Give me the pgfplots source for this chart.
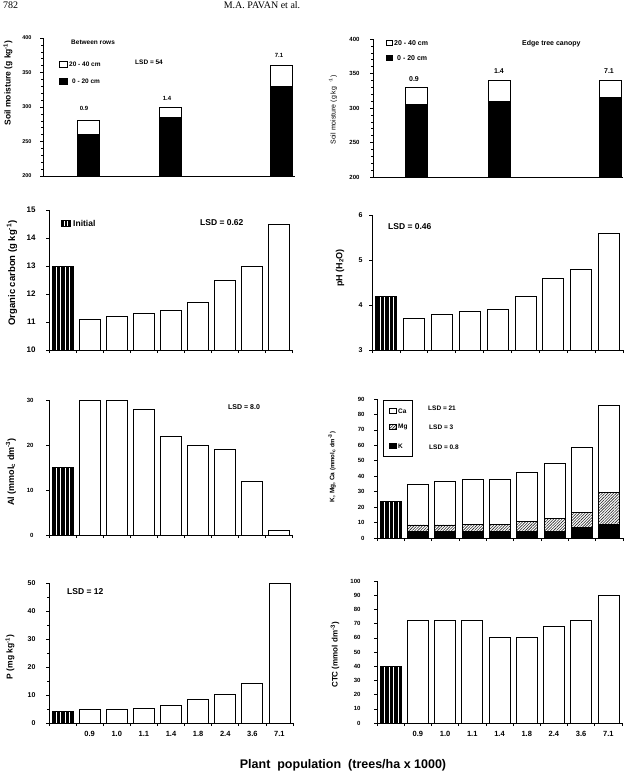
\documentclass[border=0pt]{standalone}
\usepackage{fontspec}
\setmainfont{Liberation Sans}
\newfontfamily\serifhead{Liberation Serif}
\usepackage{pgfplots}
\pgfplotsset{compat=1.18}
\usetikzlibrary{patterns.meta}

\newcommand\fs[1]{\fontsize{#1}{#1}\selectfont}

\pgfplotsset{
  panel/.style={
    scale only axis, anchor=south west,
    axis x line*=bottom, axis y line*=left,
    axis line style={-, line width=0.7pt},
    every outer x axis line/.append style={-},
    every outer y axis line/.append style={-},
    tick align=outside, major tick length=3pt, minor tick length=1.8pt,
    tick style={black, line width=0.6pt},
    /pgf/number format/assume math mode=true,
  },
  panel9/.style={
    panel, ybar, bar shift=0pt, bar width=21pt,
    xmin=-0.5, xmax=8.5, xtick={-0.5,0.5,...,8.5}, xticklabels={},
  },
  poplabels/.style={
    extra x ticks={1,2,3,4,5,6,7,8},
    extra x tick labels={0.9,1.0,1.1,1.4,1.8,2.4,3.6,7.1},
    extra x tick style={major tick length=0pt,
      xticklabel style={font=\bfseries\fs{7.5}, yshift=-5pt}},
  },
  openbar/.style={draw=black, fill=white, line width=0.7pt},
  blackbar/.style={draw=black, fill=black, line width=0.7pt},
  initbar/.style={draw=black, line width=0.7pt,
    pattern={Lines[angle=90,distance=4.5pt,line width=3.3pt]}, pattern color=black},
  mgbar/.style={draw=black, line width=0.7pt,
    pattern={Lines[angle=45,distance=2pt,line width=0.6pt]}, pattern color=black!85},
}

\begin{document}
\begin{tikzpicture}
\path[use as bounding box] (0pt,0pt) rectangle (629pt,-773pt);

% ---- Soil moisture, between rows ----
\begin{axis}[panel, at={(43pt,-176pt)}, width=252pt, height=138pt,
  ybar stacked, bar width=22pt,
  xmin=0, xmax=252, xtick=\empty,
  ymin=200, ymax=400, ytick={200,250,...,400}, minor y tick num=4,
  yticklabel style={font=\bfseries\fs{5.5}, xshift=-5pt}]
\addplot[blackbar] coordinates {(45,260) (127,285) (238,330)};
\addplot[openbar]  coordinates {(45,20) (127,15) (238,30)};
\end{axis}

% ---- Soil moisture, edge of tree canopy ----
\begin{axis}[panel, at={(373pt,-177pt)}, width=250pt, height=138pt,
  ybar stacked, bar width=22pt,
  xmin=0, xmax=250, xtick=\empty,
  ymin=200, ymax=400, ytick={200,250,...,400}, minor y tick num=4,
  yticklabel style={font=\bfseries\fs{6}, xshift=-7pt}]
\addplot[blackbar] coordinates {(43,305) (126,310) (237,315)};
\addplot[openbar]  coordinates {(43,25) (126,30) (237,25)};
\end{axis}

% ---- Organic carbon ----
\begin{axis}[panel9, at={(49pt,-350pt)}, width=243pt, height=140pt,
  ymin=10, ymax=15, ytick={10,11,...,15},
  yticklabel style={font=\bfseries\fs{8}, xshift=-7pt}]
\addplot[initbar] coordinates {(0,13.0)};
\addplot[openbar] coordinates {(1,11.1) (2,11.2) (3,11.3) (4,11.4) (5,11.7) (6,12.5) (7,13.0) (8,14.5)};
\end{axis}

% ---- pH ----
\begin{axis}[panel9, at={(372pt,-350pt)}, width=251pt, height=135pt,
  ymin=3, ymax=6, ytick={3,4,5,6},
  yticklabel style={font=\bfseries\fs{7}, xshift=-3pt}]
\addplot[initbar] coordinates {(0,4.2)};
\addplot[openbar] coordinates {(1,3.7) (2,3.8) (3,3.85) (4,3.9) (5,4.2) (6,4.6) (7,4.8) (8,5.6)};
\end{axis}

% ---- Al ----
\begin{axis}[panel9, at={(49pt,-535pt)}, width=243pt, height=135pt,
  ymin=0, ymax=30, ytick={0,10,20,30},
  yticklabel style={font=\bfseries\fs{6}, xshift=-9pt}]
\addplot[initbar] coordinates {(0,15)};
\addplot[openbar] coordinates {(1,30) (2,30) (3,28) (4,22) (5,20) (6,19) (7,12) (8,1)};
\end{axis}

% ---- K, Mg, Ca (cumulative tops: K, K+Mg, K+Mg+Ca) ----
\begin{axis}[panel9, at={(377pt,-538pt)}, width=246pt, height=139pt,
  ymin=0, ymax=90, ytick={0,10,...,90},
  yticklabel style={font=\bfseries\fs{6}, xshift=-6pt}]
\addplot[initbar] coordinates {(0,24)};
\addplot[openbar] coordinates {(1,34.5) (2,36.5) (3,38) (4,38) (5,42.5) (6,48.5) (7,58.5) (8,86)};
\addplot[mgbar]   coordinates {(1,8.5) (2,8.5) (3,9) (4,9) (5,10.5) (6,12.5) (7,16.5) (8,29.5)};
\addplot[blackbar] coordinates {(1,4.5) (2,4.5) (3,4.5) (4,4.5) (5,4.5) (6,4.5) (7,7) (8,9)};
\end{axis}

% ---- P ----
\begin{axis}[panel9, poplabels, at={(49pt,-723pt)}, width=244pt, height=140pt,
  ymin=0, ymax=50, ytick={0,10,...,50}, minor y tick num=1,
  yticklabel style={font=\bfseries\fs{7}, xshift=-7pt}]
\addplot[initbar] coordinates {(0,4)};
\addplot[openbar] coordinates {(1,4.7) (2,4.7) (3,5.3) (4,6.2) (5,8.3) (6,10.4) (7,14.3) (8,50)};
\end{axis}

% ---- CTC ----
\begin{axis}[panel9, poplabels, at={(377pt,-723pt)}, width=245pt, height=142pt,
  ymin=0, ymax=100, ytick={0,10,...,100},
  yticklabel style={font=\bfseries\fs{6}, xshift=-10pt}]
\addplot[initbar] coordinates {(0,40)};
\addplot[openbar] coordinates {(1,72) (2,72) (3,72) (4,60) (5,60) (6,68) (7,72) (8,90)};
\end{axis}

% ---- annotations ----
\begin{scope}[x=1pt, y=-1pt, every node/.style={inner sep=0pt}]
  % running head
  \node[font=\serifhead\fs{10}, anchor=base west] at (3,9) {782};
  \node[font=\serifhead\fs{10}, anchor=base] at (262,9) {M.A. PAVAN et al.};

  % y-axis titles
  \node[rotate=90, font=\bfseries\fs{8.5}] at (8,83) {Soil moisture (g kg\textsuperscript{-1})};
  \node[rotate=90, font=\fs{7}] at (333,110) {Soil moisture (g kg \ \textsuperscript{-1})};
  \node[rotate=90, font=\bfseries\fs{9.5}] at (12,273) {Organic carbon (g kg\textsuperscript{-1})};
  \node[rotate=90, font=\bfseries\fs{9}] at (340,268) {pH (H\textsubscript{2}O)};
  \node[rotate=90, font=\bfseries\fs{9}] at (11,472) {Al (mmol\textsubscript{c} dm\textsuperscript{-3})};
  \node[rotate=90, font=\bfseries\fs{6.5}] at (332,467) {K, Mg, Ca {\fs{6}(mmol\textsubscript{c} dm\textsuperscript{-3})}};
  \node[rotate=90, font=\bfseries\fs{8.5}] at (10,657) {P (mg kg\textsuperscript{-1})};
  \node[rotate=90, font=\bfseries\fs{8}] at (335,655) {CTC (mmol dm\textsuperscript{-3})};

  % soil moisture panels
  \node[anchor=west, font=\bfseries\fs{6.5}] at (71,42) {Between rows};
  \node[anchor=west, font=\bfseries\fs{6.5}] at (135,62) {LSD = 54};
  \draw[line width=0.6pt, fill=white] (59,61) rectangle (67,67);
  \draw[line width=0.6pt, fill=black] (59,78) rectangle (67,84);
  \node[anchor=west, font=\bfseries\fs{6.5}] at (69,64) {20 - 40 cm};
  \node[anchor=west, font=\bfseries\fs{6.5}] at (72,81) {0 - 20 cm};
  \node[font=\bfseries\fs{6}] at (84,108) {0.9};
  \node[font=\bfseries\fs{6}] at (167,98) {1.4};
  \node[font=\bfseries\fs{6}] at (279,55) {7.1};

  \node[anchor=west, font=\bfseries\fs{7}] at (522,44) {Edge tree canopy};
  \draw[line width=0.6pt, fill=white] (386,40.5) rectangle (392,45.5);
  \draw[line width=0.6pt, fill=black] (386,55.5) rectangle (392,60.5);
  \node[anchor=west, font=\bfseries\fs{7}] at (394,43) {20 - 40 cm};
  \node[anchor=west, font=\bfseries\fs{7}] at (397,58) {0 - 20 cm};
  \node[font=\bfseries\fs{7}] at (414,79) {0.9};
  \node[font=\bfseries\fs{7}] at (499,71) {1.4};
  \node[font=\bfseries\fs{7}] at (609,71) {7.1};

  % organic carbon / pH
  \draw[line width=0.6pt, pattern={Lines[angle=90,distance=3pt,line width=2pt]}, pattern color=black] (61,220) rectangle (70,226);
  \node[anchor=west, font=\bfseries\fs{8.5}] at (73,223) {Initial};
  \node[anchor=west, font=\bfseries\fs{8.5}] at (200,223) {LSD = 0.62};
  \node[anchor=west, font=\bfseries\fs{8.5}] at (388,227) {LSD = 0.46};

  % Al / bases
  \node[anchor=west, font=\bfseries\fs{7}] at (228,407) {LSD = 8.0};
  \draw[line width=0.6pt, fill=white] (383,400) rectangle (412,456);
  \draw[line width=0.6pt, fill=white] (389,408.5) rectangle (396,413.5);
  \draw[line width=0.6pt, pattern={Lines[angle=45,distance=2pt,line width=0.6pt]}, pattern color=black!85] (389,424.5) rectangle (396,429.5);
  \draw[line width=0.6pt, fill=black] (389,443.5) rectangle (396,448.5);
  \node[anchor=west, font=\bfseries\fs{6.5}] at (398,411) {Ca};
  \node[anchor=west, font=\bfseries\fs{6.5}] at (398,427) {Mg};
  \node[anchor=west, font=\bfseries\fs{6.5}] at (398,446) {K};
  \node[anchor=west, font=\bfseries\fs{6.5}] at (428,408) {LSD = 21};
  \node[anchor=west, font=\bfseries\fs{6.5}] at (429,427) {LSD = 3};
  \node[anchor=west, font=\bfseries\fs{6.5}] at (429,447) {LSD = 0.8};

  % P
  \node[anchor=west, font=\bfseries\fs{8.5}] at (67,592) {LSD = 12};

  % shared x title
  \node[anchor=south, font=\bfseries\fs{12.5}] at (343,771.5) {Plant\ \ population\ \ (trees/ha x 1000)};
\end{scope}
\end{tikzpicture}
\end{document}
